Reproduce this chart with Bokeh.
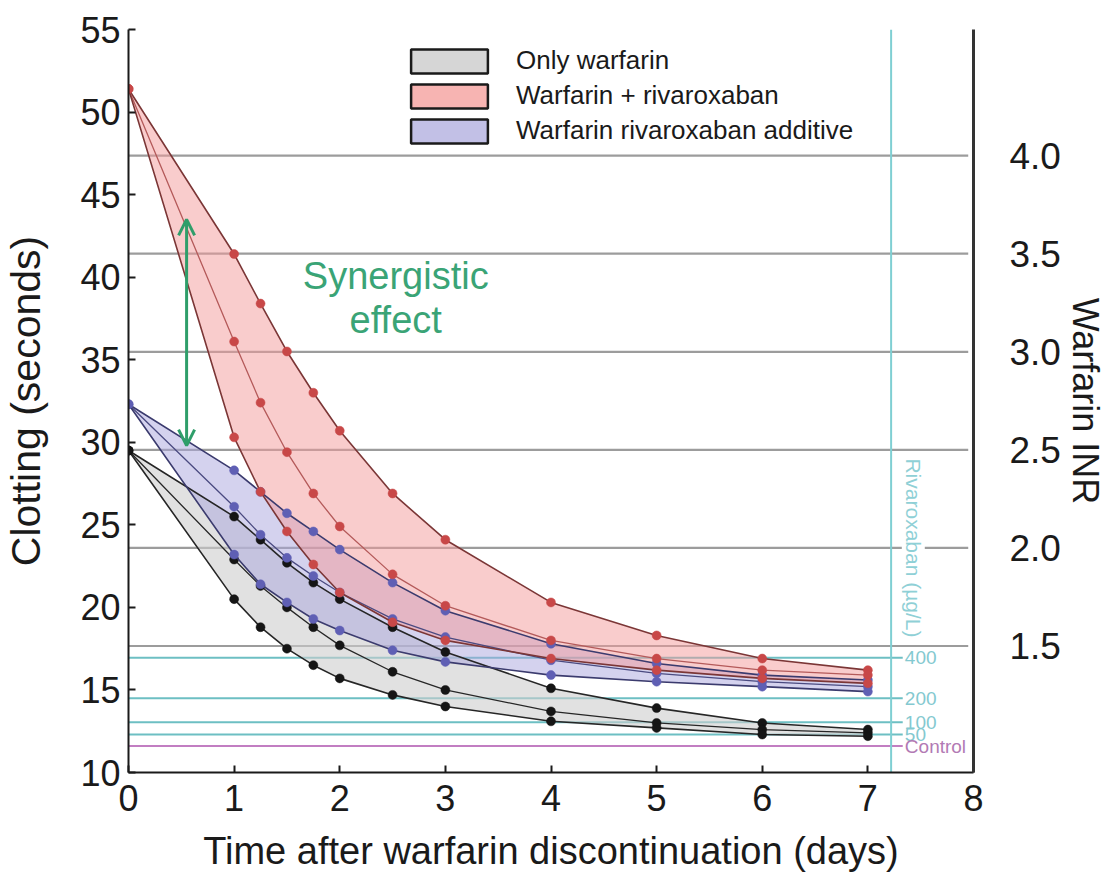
import math
from bokeh.plotting import figure
from bokeh.models import (Range1d, LinearAxis, FixedTicker, NumeralTickFormatter,
                          Legend, LegendItem, Arrow, OpenHead)
from bokeh.core.properties import value
from bokeh.embed import file_html
from bokeh.resources import INLINE

# ---------------- data ----------------
days = [0, 1, 1.25, 1.5, 1.75, 2, 2.5, 3, 4, 5, 6, 7]

warf_upper = [29.5, 25.5, 24.1, 22.7, 21.5, 20.5, 18.8, 17.3, 15.1, 13.9, 13.0, 12.6]
warf_mid   = [29.5, 22.9, 21.3, 20.0, 18.8, 17.7, 16.1, 15.0, 13.7, 13.0, 12.6, 12.4]
warf_lower = [29.5, 20.5, 18.8, 17.5, 16.5, 15.7, 14.7, 14.0, 13.1, 12.7, 12.3, 12.2]

add_upper = [32.3, 28.3, 27.0, 25.7, 24.6, 23.5, 21.5, 19.8, 17.8, 16.6, 15.9, 15.6]
add_mid   = [32.3, 26.1, 24.4, 23.0, 21.9, 20.9, 19.3, 18.2, 16.8, 16.0, 15.5, 15.2]
add_lower = [32.3, 23.2, 21.4, 20.3, 19.3, 18.6, 17.4, 16.7, 15.9, 15.5, 15.2, 14.9]

riva_upper = [51.4, 41.4, 38.4, 35.5, 33.0, 30.7, 26.9, 24.1, 20.3, 18.3, 16.9, 16.2]
riva_mid   = [51.4, 36.1, 32.4, 29.4, 26.9, 24.9, 22.0, 20.1, 18.0, 16.9, 16.2, 15.9]
riva_lower = [51.4, 30.3, 27.0, 24.6, 22.6, 20.9, 19.1, 18.0, 16.9, 16.2, 15.7, 15.4]

legend_labels = ["Only warfarin", "Warfarin + rivaroxaban", "Warfarin rivaroxaban additive"]

x_ticks = [0, 1, 2, 3, 4, 5, 6, 7, 8]
y_ticks = [10, 15, 20, 25, 30, 35, 40, 45, 50, 55]
inr_ticks = [1.5, 2.0, 2.5, 3.0, 3.5, 4.0]

# INR axis <-> clotting seconds (INR 1.0 = 11.72 s, 11.88 s per INR unit)
inr_base_clot = 11.72
clot_per_inr = 11.88

riva_levels = ["400", "200", "100", "50", "Control"]
riva_clot = [16.95, 14.5, 13.05, 12.3, 11.6]
riva_day_cut = 7.22

synergy_day = 0.55
synergy_span = [29.8, 43.5]
synergy_text = ["Synergistic", "effect"]
synergy_text_x = [2.53, 2.53]
synergy_text_y = [40.1, 37.4]

FONT = "Liberation Sans"
NAN = float("nan")

# ---------------- figure ----------------
p = figure(width=1115, height=874, output_backend="svg", toolbar_location=None,
           x_range=Range1d(0, 8), y_range=Range1d(10, 55),
           min_border_left=128, min_border_right=142, min_border_top=29, min_border_bottom=102)
p.outline_line_color = None
p.xgrid.visible = False
p.ygrid.visible = False
p.background_fill_color = "white"

inr_lo = 1 + (10 - inr_base_clot) / clot_per_inr
inr_hi = 1 + (55 - inr_base_clot) / clot_per_inr
p.extra_y_ranges = {"inr": Range1d(inr_lo, inr_hi)}

# INR grid lines
p.segment(x0=[0] * len(inr_ticks), x1=[7.95] * len(inr_ticks), y0=inr_ticks, y1=inr_ticks,
          y_range_name="inr", line_color="#9c9c9c", line_width=2.2)

# rivaroxaban reference lines
riva_colors = ["#6dbfc3"] * 4 + ["#c27ec2"]
p.segment(x0=[0] * len(riva_clot), x1=[7.33] * len(riva_clot), y0=riva_clot, y1=riva_clot,
          line_color=riva_colors, line_width=2)
p.segment(x0=[riva_day_cut], x1=[riva_day_cut], y0=[10], y1=[55], line_color="#7fcfd3", line_width=2)

text_colors = ["#84c9d0"] * 4 + ["#b27ab4"]
p.text(x=[7.35] * len(riva_clot), y=riva_clot, text=riva_levels, text_color=text_colors,
       text_font=value(FONT), text_font_size="19px", text_align="left", text_baseline="middle")
p.text(x=[7.43], y=[23.6], text=["Rivaroxaban (µg/L)"], angle=-math.pi / 2,
       text_color="#8fd0d6", text_font=value(FONT), text_font_size="21px",
       text_align="center", text_baseline="middle", background_fill_color="white")

# bands
bands = [
    (warf_upper, warf_mid, warf_lower, "#cdcdcd", 0.6, "#262626", "#262626", "#151515"),
    (add_upper, add_mid, add_lower, "#a9a5de", 0.5, "#3b3b6e", "#4a4a80", "#5f5fb4"),
    (riva_upper, riva_mid, riva_lower, "#f39a9a", 0.5, "#7b3636", "#b45a5a", "#c84848"),
]
for up, mid, lo, fc, fa, lc, mc, dc in bands:
    p.varea(x=days, y1=lo, y2=up, fill_color=fc, fill_alpha=fa)
for up, mid, lo, fc, fa, lc, mc, dc in bands:
    p.line(days, up, line_color=lc, line_width=1.6)
    p.line(days, mid, line_color=mc, line_width=1.3)
    p.line(days, lo, line_color=lc, line_width=1.6)
    for ys in (up, mid, lo):
        p.scatter(days, ys, size=9, fill_color=dc, line_color=dc, line_width=0.5)

# synergy arrow + text
green = "#2f9e6a"
p.add_layout(Arrow(x_start=synergy_day, y_start=synergy_span[0], x_end=synergy_day, y_end=synergy_span[1],
                   line_color=green, line_width=3,
                   start=OpenHead(size=16, line_color=green, line_width=3),
                   end=OpenHead(size=16, line_color=green, line_width=3)))
p.text(x=synergy_text_x, y=synergy_text_y, text=synergy_text,
       text_color="#3aa476", text_font=value(FONT), text_font_size="38px",
       text_align="center", text_baseline="middle")

# legend (proxy glyphs with no visible data)
leg_fill = ["#d6d6d6", "#f7b4b2", "#c2c0e6"]
items = []
for lab, fc in zip(legend_labels, leg_fill):
    r = p.quad(left=[NAN], right=[NAN], top=[NAN], bottom=[NAN],
               fill_color=fc, line_color="#1a1a1a", line_width=2.5)
    items.append(LegendItem(label=lab, renderers=[r]))
legend = Legend(items=items, location=(273, 626), border_line_color=None, background_fill_alpha=0,
                glyph_width=96, glyph_height=30, label_height=25, spacing=4, padding=0, margin=0,
                label_standoff=19, label_text_font=FONT, label_text_font_size="26px",
                label_text_color="#1a1a1a")
p.add_layout(legend)

# axes
for ax in (p.xaxis[0], p.yaxis[0]):
    ax.axis_line_color = "#1a1a1a"
    ax.axis_line_width = 2
    ax.major_tick_line_color = "#1a1a1a"
    ax.major_tick_line_width = 2
    ax.major_tick_in = 7
    ax.major_tick_out = 0
    ax.minor_tick_line_color = None
    ax.major_label_text_font = FONT
    ax.major_label_text_font_size = "36px"
    ax.major_label_text_color = "#1a1a1a"
    ax.axis_label_text_font = FONT
    ax.axis_label_text_font_style = "normal"
    ax.axis_label_text_color = "#1a1a1a"

p.xaxis.ticker = FixedTicker(ticks=x_ticks)
p.yaxis.ticker = FixedTicker(ticks=y_ticks)
p.xaxis.axis_label = "Time after warfarin discontinuation (days)"
p.xaxis.axis_label_text_font_size = "38px"
p.xaxis.major_label_standoff = 12
p.xaxis.axis_label_standoff = 16
p.yaxis.axis_label = "Clotting (seconds)"
p.yaxis.axis_label_text_font_size = "41px"
p.yaxis.major_label_standoff = 8
p.yaxis.axis_label_standoff = 28

ax_r = LinearAxis(y_range_name="inr", ticker=FixedTicker(ticks=inr_ticks),
                  formatter=NumeralTickFormatter(format="0.0"),
                  axis_label="Warfarin INR")
ax_r.axis_line_color = "#333333"
ax_r.axis_line_width = 3
ax_r.major_tick_line_color = None
ax_r.minor_tick_line_color = None
ax_r.major_label_standoff = 30
ax_r.major_label_text_font = FONT
ax_r.major_label_text_font_size = "37px"
ax_r.major_label_text_color = "#1a1a1a"
ax_r.axis_label_text_font = FONT
ax_r.axis_label_text_font_style = "normal"
ax_r.axis_label_text_font_size = "36px"
ax_r.axis_label_text_color = "#1a1a1a"
ax_r.axis_label_standoff = 1
p.add_layout(ax_r, "right")

open("out.html", "w").write(file_html(p, INLINE))
